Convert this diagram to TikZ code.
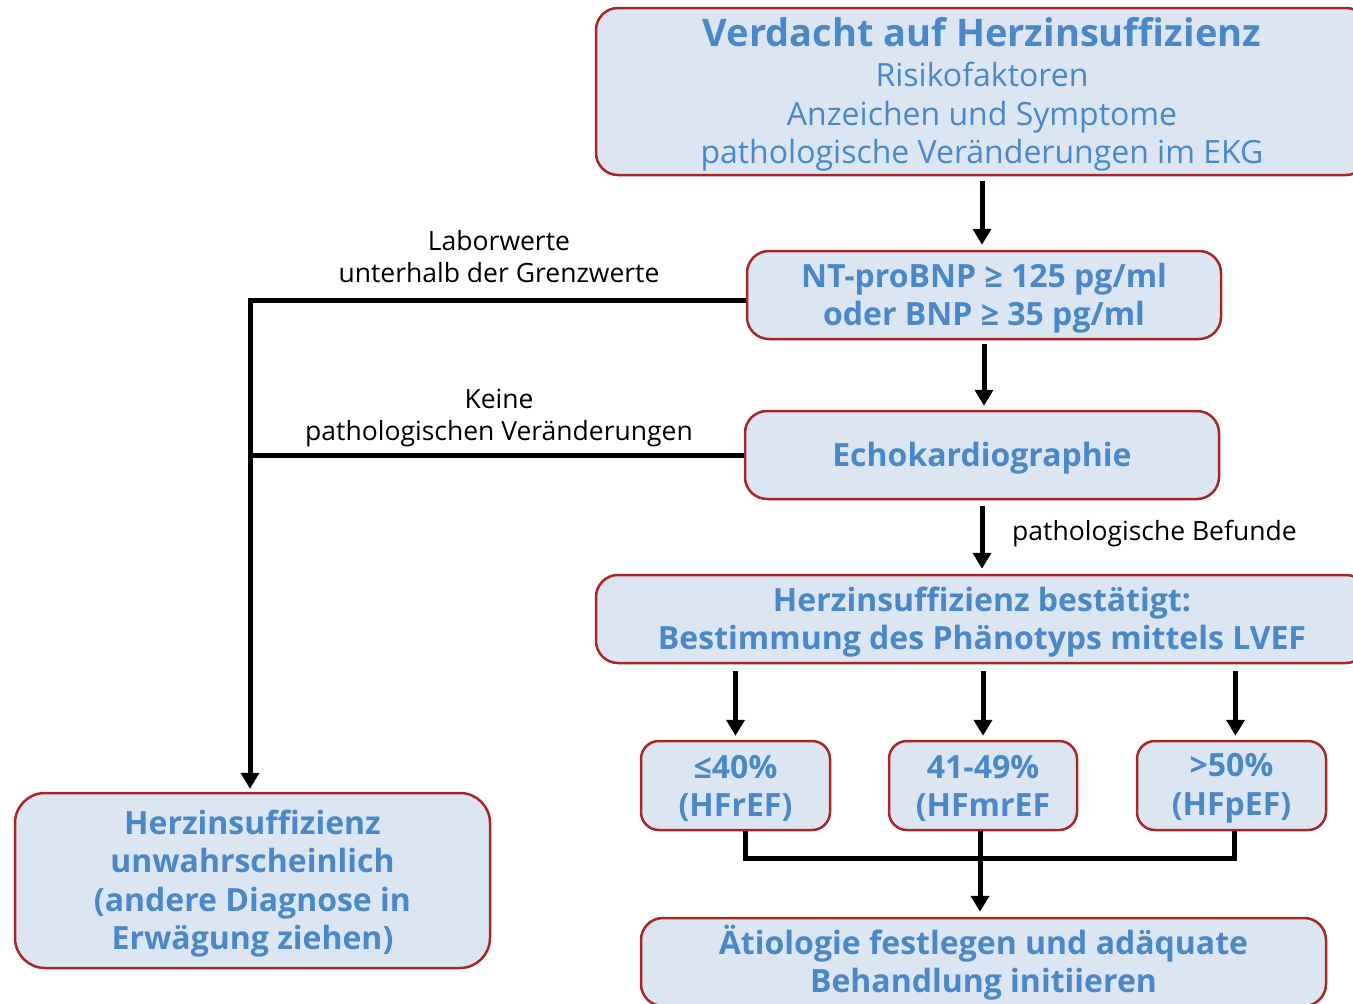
\documentclass[tikz,border=0pt]{standalone}
\usepackage{fontspec}
\setmainfont{Open Sans}
\usetikzlibrary{arrows.meta}
\definecolor{boxfill}{HTML}{DCE6F2}
\definecolor{boxdraw}{HTML}{A8262A}
\definecolor{boxtext}{HTML}{4A88C8}
\newcommand{\toppad}[1]{\rule{0pt}{#1}}
\tikzset{
  box/.style={draw=boxdraw, line width=2.5pt, fill=boxfill, rounded corners=22pt,
    align=center, text=boxtext, font=\bfseries\fontsize{32}{38.5}\selectfont, inner sep=0pt},
  conn/.style={line width=5pt, black},
  arr/.style={conn, -{Triangle[width=18pt,length=16pt]}},
  lbl/.style={font=\fontsize{26.5}{32}\selectfont, align=center, inner sep=0pt}
}
\begin{document}
\begin{tikzpicture}[x=1pt,y=-1pt]
\useasboundingbox (0,0) rectangle (1353,1004);
\clip (0,0) rectangle (1353,1004);
\node[box, minimum width=772pt, minimum height=167pt] (top) at (982,91.5)
  {\toppad{35pt}{\fontsize{38}{40}\selectfont Verdacht auf Herzinsuffizienz}\\[2pt]
   {\mdseries Risikofaktoren}\\ {\mdseries Anzeichen und Symptome}\\ {\mdseries pathologische Veränderungen im EKG}};
\node[box, minimum width=474pt, minimum height=88pt] (nt) at (984,295)
  {\toppad{31pt}NT-proBNP ≥ 125 pg/ml\\ oder BNP ≥ 35 pg/ml};
\node[box, minimum width=474pt, minimum height=88pt] (echo) at (982,455) {\toppad{31pt}Echokardiographie};
\node[box, minimum width=772pt, minimum height=88pt] (best) at (982,619)
  {\toppad{31pt}Herzinsuffizienz bestätigt:\\ Bestimmung des Phänotyps mittels LVEF};
\node[box, rounded corners=18pt, minimum width=189pt, minimum height=89pt] (b1) at (735.5,785.5) {\toppad{29pt}≤40\%\\ (HFrEF)};
\node[box, rounded corners=18pt, minimum width=188pt, minimum height=89pt] (b2) at (983,785.5) {\toppad{29pt}41-49\%\\ (HFmrEF};
\node[box, rounded corners=18pt, minimum width=189pt, minimum height=89pt] (b3) at (1231.5,785.5) {\toppad{29pt}>50\%\\ (HFpEF)};
\node[box, minimum width=685pt, minimum height=88pt] (aet) at (983.5,962)
  {\toppad{31pt}Ätiologie festlegen und adäquate\\ Behandlung initiieren};
\node[box, rounded corners=30pt, minimum width=475pt, minimum height=175pt] (left) at (252.5,880.5)
  {\toppad{31pt}Herzinsuffizienz\\ unwahrscheinlich\\ (andere Diagnose in\\ Erwägung ziehen)};
% labels
\node[lbl] (l1) at (499,257) {Laborwerte\\ unterhalb der Grenzwerte};
\node[lbl] (l2) at (499,418) {Keine\\ pathologischen Veränderungen};
\node[lbl, anchor=west] (l3) at (1012,534) {pathologische Befunde};
% connectors
\coordinate (L) at (250,300);
\draw[arr, shorten <=5pt, shorten >=5pt] (top.south) -- (top.south |- nt.north);
\draw[arr, shorten <=4pt, shorten >=4pt] (nt.south) -- (nt.south |- echo.north);
\draw[arr, shorten <=6pt, shorten >=5pt] (echo.south) -- (echo.south |- best.north);
\draw[arr, shorten <=7pt, shorten >=4pt] (b1.north |- best.south) -- (b1.north);
\draw[arr, shorten <=7pt, shorten >=4pt] (b2.north |- best.south) -- (b2.north);
\draw[arr, shorten <=7pt, shorten >=4pt] ([xshift=4pt]b3.north |- best.south) -- ([xshift=4pt]b3.north);
\draw[arr, shorten >=3pt] ([yshift=-5pt]nt.west) -- ([yshift=-5pt]nt.west -| L) -- (L |- left.north);
\draw[conn] (echo.west) -- (echo.west -| L);
\coordinate (J) at (980,858);
\draw[conn] ([xshift=9.5pt]b1.south) -- ([xshift=9.5pt]b1.south |- J) -- ([xshift=2.5pt]b3.south |- J) -- ([xshift=2.5pt]b3.south);
\draw[arr, shorten >=5pt] ([xshift=-3pt]b2.south) -- ([xshift=-3pt]b2.south |- aet.north);
\end{tikzpicture}
\end{document}
